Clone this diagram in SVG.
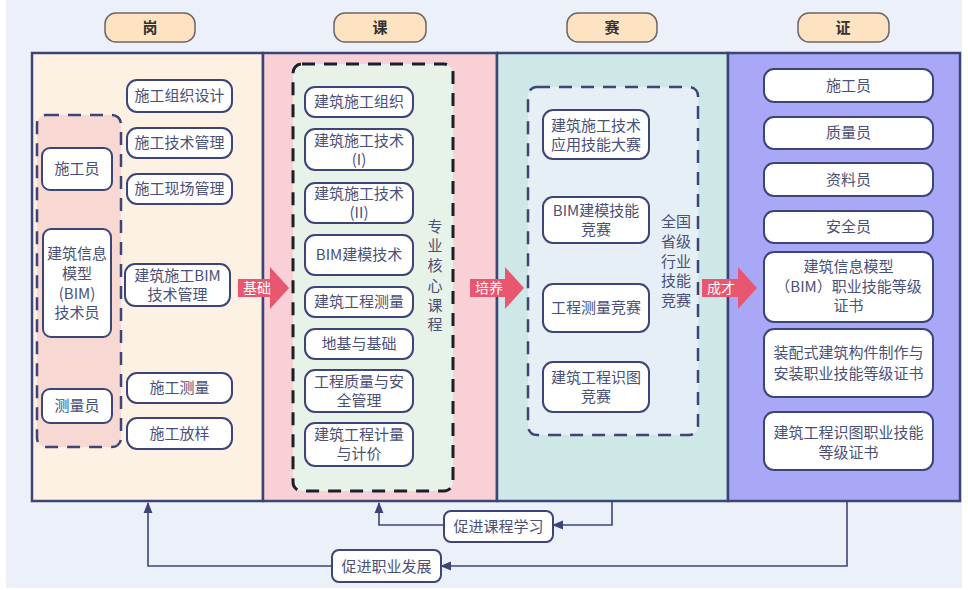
<svg xmlns="http://www.w3.org/2000/svg" width="968" height="590" viewBox="0 0 968 590">
<defs>
<style>
text{font-family:"Noto Sans CJK SC","Noto Sans",sans-serif;fill:#4a5078;font-size:15px;text-anchor:middle}
.hd{fill:#fde3c2;stroke:#6e6464;stroke-width:1.5}
.hdt{fill:#333;font-weight:bold;font-size:15px}
.col{stroke:#3d4578;stroke-width:2.5}
.box{fill:#fff;stroke:#3d4578;stroke-width:2}
.grp{stroke:#3d4578;stroke-width:2.5;stroke-dasharray:13 9}
.grpk{stroke:#1e1e28;stroke-width:3;stroke-dasharray:13 9}
.arr{fill:#e8566f}
.arrt{fill:#fff;font-size:14px}
.ln{fill:none;stroke:#3d4578;stroke-width:1.6}
</style>
<marker id="ah" viewBox="0 0 10 10" refX="9" refY="5" markerWidth="7" markerHeight="7" orient="auto-start-reverse">
<path d="M0,1 L10,5 L0,9 Z" fill="#3d4578"/>
</marker>
</defs>
<rect x="0" y="0" width="968" height="590" fill="#ffffff"/>
<rect x="6" y="0" width="956" height="588" fill="#ecf0f8"/>

<g id="headers">
<g id="h-gang"><rect class="hd" x="105" y="13" width="90" height="29" rx="11"/><text class="hdt" x="150" y="33">岗</text></g>
<g id="h-ke"><rect class="hd" x="334" y="13" width="92" height="29" rx="11"/><text class="hdt" x="380" y="33">课</text></g>
<g id="h-sai"><rect class="hd" x="567" y="13" width="90" height="29" rx="11"/><text class="hdt" x="612" y="33">赛</text></g>
<g id="h-zheng"><rect class="hd" x="798" y="13" width="91" height="29" rx="11"/><text class="hdt" x="843" y="33">证</text></g>
</g>

<g id="columns">
<rect class="col" x="32" y="53" width="231" height="448" fill="#fdf1e4"/>
<rect class="col" x="263" y="53" width="234" height="448" fill="#f8d0d6"/>
<rect class="col" x="497" y="53" width="231" height="448" fill="#cde8e6"/>
<rect class="col" x="728" y="53" width="232" height="448" fill="#a9a8f6" stroke-width="3"/>
</g>

<g id="gang-group">
<rect class="grp" x="37" y="115" width="84" height="332" rx="9" fill="#f8d8d2"/>
</g>
<g id="ke-group">
<rect class="grpk" x="293" y="64" width="160" height="427" rx="9" fill="#e7f2e9"/>
<text x="435" y="232" font-size="16">专</text>
<text x="435" y="251" font-size="16">业</text>
<text x="435" y="271" font-size="16">核</text>
<text x="435" y="291" font-size="16">心</text>
<text x="435" y="311" font-size="16">课</text>
<text x="435" y="330" font-size="16">程</text>
</g>
<g id="sai-group">
<rect class="grp" x="528" y="87" width="170" height="348" rx="9" fill="#e6eef6"/>
<text x="676" y="227" font-size="16">全国</text>
<text x="676" y="247" font-size="16">省级</text>
<text x="676" y="267" font-size="16">行业</text>
<text x="676" y="286" font-size="16">技能</text>
<text x="676" y="306" font-size="16">竞赛</text>
</g>

<g id="n-shigongyuan"><rect class="box" x="42" y="148" width="70" height="42" rx="8"/><text x="77" y="174">施工员</text></g>
<g id="n-bimjishuyuan"><rect class="box" x="43" y="229" width="68" height="108" rx="8"/>
<text x="77" y="259">建筑信息</text><text x="77" y="279">模型</text><text x="77" y="299">(BIM)</text><text x="77" y="318">技术员</text></g>
<g id="n-celiangyuan"><rect class="box" x="42" y="389" width="70" height="34" rx="8"/><text x="77" y="411">测量员</text></g>

<g id="n-zuzhisheji"><rect class="box" x="127" y="80" width="105" height="32" rx="10"/><text x="179.5" y="101">施工组织设计</text></g>
<g id="n-jishuguanli"><rect class="box" x="127" y="128" width="105" height="30" rx="10"/><text x="179.5" y="148">施工技术管理</text></g>
<g id="n-xianchangguanli"><rect class="box" x="127" y="174" width="105" height="30" rx="10"/><text x="179.5" y="194">施工现场管理</text></g>
<g id="n-bimguanli"><rect class="box" x="125" y="264" width="105" height="42" rx="10"/><text x="177.5" y="281">建筑施工BIM</text><text x="177.5" y="300">技术管理</text></g>
<g id="n-shigongceliang"><rect class="box" x="127" y="373" width="105" height="30" rx="10"/><text x="179.5" y="393">施工测量</text></g>
<g id="n-fangyang"><rect class="box" x="127" y="418" width="105" height="31" rx="10"/><text x="179.5" y="439">施工放样</text></g>

<g id="n-k1"><rect class="box" x="305" y="87" width="108" height="30" rx="10"/><text x="359" y="107">建筑施工组织</text></g>
<g id="n-k2"><rect class="box" x="305" y="129" width="108" height="41" rx="10"/><text x="359" y="146">建筑施工技术</text><text x="359" y="165">(I)</text></g>
<g id="n-k3"><rect class="box" x="305" y="183" width="108" height="40" rx="10"/><text x="359" y="199">建筑施工技术</text><text x="359" y="218">(II)</text></g>
<g id="n-k4"><rect class="box" x="305" y="235" width="108" height="40" rx="10"/><text x="359" y="260">BIM建模技术</text></g>
<g id="n-k5"><rect class="box" x="305" y="287" width="108" height="30" rx="10"/><text x="359" y="307">建筑工程测量</text></g>
<g id="n-k6"><rect class="box" x="305" y="329" width="108" height="30" rx="10"/><text x="359" y="349">地基与基础</text></g>
<g id="n-k7"><rect class="box" x="305" y="370" width="108" height="42" rx="10"/><text x="359" y="387">工程质量与安</text><text x="359" y="406">全管理</text></g>
<g id="n-k8"><rect class="box" x="305" y="423" width="108" height="43" rx="10"/><text x="359" y="440">建筑工程计量</text><text x="359" y="459">与计价</text></g>

<g id="n-s1"><rect class="box" x="543" y="110" width="106" height="49" rx="10"/><text x="596" y="131">建筑施工技术</text><text x="596" y="150">应用技能大赛</text></g>
<g id="n-s2"><rect class="box" x="543" y="197" width="106" height="46" rx="10"/><text x="596" y="216">BIM建模技能</text><text x="596" y="235">竞赛</text></g>
<g id="n-s3"><rect class="box" x="543" y="284" width="106" height="48" rx="10"/><text x="596" y="313">工程测量竞赛</text></g>
<g id="n-s4"><rect class="box" x="543" y="362" width="106" height="50" rx="10"/><text x="596" y="383">建筑工程识图</text><text x="596" y="402">竞赛</text></g>

<g id="n-z1"><rect class="box" x="764" y="69" width="169" height="33" rx="10"/><text x="848.5" y="91">施工员</text></g>
<g id="n-z2"><rect class="box" x="764" y="117" width="169" height="32" rx="10"/><text x="848.5" y="138">质量员</text></g>
<g id="n-z3"><rect class="box" x="764" y="163" width="169" height="33" rx="10"/><text x="848.5" y="185">资料员</text></g>
<g id="n-z4"><rect class="box" x="764" y="211" width="169" height="32" rx="10"/><text x="848.5" y="232">安全员</text></g>
<g id="n-z5"><rect class="box" x="764" y="252" width="169" height="70" rx="10"/><text x="848.5" y="272">建筑信息模型</text><text x="848.5" y="292">（BIM）职业技能等级</text><text x="848.5" y="311">证书</text></g>
<g id="n-z6"><rect class="box" x="764" y="329" width="169" height="68" rx="10"/><text x="848.5" y="358">装配式建筑构件制作与</text><text x="848.5" y="379">安装职业技能等级证书</text></g>
<g id="n-z7"><rect class="box" x="764" y="412" width="169" height="58" rx="10"/><text x="848.5" y="438">建筑工程识图职业技能</text><text x="848.5" y="458">等级证书</text></g>

<g id="arrows">
<g id="a-jichu"><path class="arr" d="M238,279 H270 V267 L289,288 L270,309 V297 H238 Z"/><text class="arrt" x="257" y="293">基础</text></g>
<g id="a-peiyang"><path class="arr" d="M470,279 H505 V267 L524,288 L505,309 V297 H470 Z"/><text class="arrt" x="489" y="293">培养</text></g>
<g id="a-chengcai"><path class="arr" d="M702,279 H738 V267 L757,288 L738,309 V297 H702 Z"/><text class="arrt" x="721" y="293">成才</text></g>
</g>

<g id="connectors">
<path class="ln" d="M612,501 V525 H553" marker-end="url(#ah)"/>
<path class="ln" d="M444,525 H379 V503" marker-end="url(#ah)"/>
<path class="ln" d="M847,501 V566 H441" marker-end="url(#ah)"/>
<path class="ln" d="M332,566 H148 V503" marker-end="url(#ah)"/>
</g>
<g id="n-cujinkecheng"><rect class="box" x="444" y="511" width="109" height="31" rx="7"/><text x="498.5" y="532">促进课程学习</text></g>
<g id="n-cujinzhiye"><rect class="box" x="332" y="550" width="109" height="32" rx="7"/><text x="386.5" y="572">促进职业发展</text></g>
</svg>
